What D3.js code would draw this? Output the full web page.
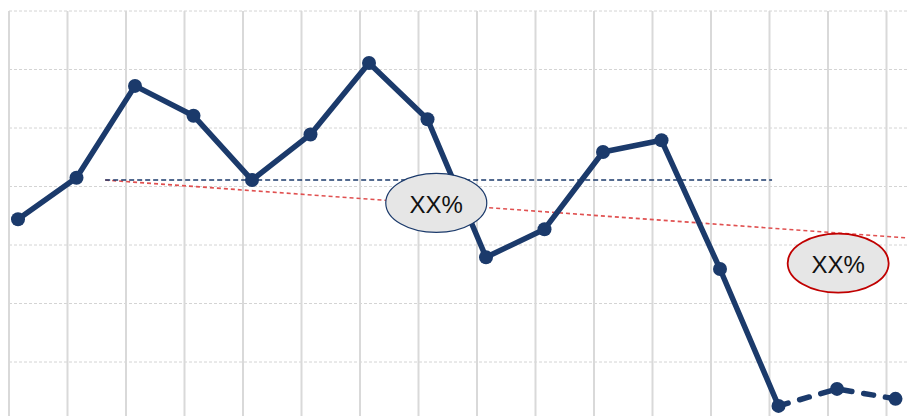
<!DOCTYPE html>
<html>
<head>
<meta charset="utf-8">
<script src="https://cdn.jsdelivr.net/npm/d3@7"></script>
<style>
  html, body { margin: 0; padding: 0; background: #ffffff; }
  svg { display: block; }
</style>
</head>
<body>
<svg id="chart" width="908" height="416"></svg>
<script>
// ---- data ----
const periods = d3.range(16);                       // 16 periods (no labels shown)
const values  = [34.4, 41.5, 57.2, 52.1, 41.1, 48.9, 61.1, 51.5,
                 27.9, 32.7, 45.9, 47.9, 25.9, 2.5, 5.4, 3.7];
const actualCount = 14;                             // last 3 points form the dashed (forecast) part
const yTicks = [10, 20, 30, 40, 50, 60, 70];
const avgLine   = [{i: 1.49, v: 41.1}, {i: 12.89, v: 41.1}];
const trendLine = [{i: 1.49, v: 41.1}, {i: 15.21, v: 31.2}];
const labels = [
  {i: 7.15,  v: 37.2, text: "XX%", stroke: "#1b3a6b"},
  {i: 14.02, v: 26.9, text: "XX%", stroke: "#c00000"}
];

// ---- setup ----
const svg = d3.select("#chart");
const W = 908, H = 416;
const x = d3.scaleLinear().domain([0, 15]).range([18, 895.5]);
const y = d3.scaleLinear().domain([0, 70]).range([420.5, 11]);
const gridShift = 9 / 58.5;   // vertical grid lines sit slightly left of each point
const navy = "#1b3a6b";

// horizontal dashed grid
svg.append("g").selectAll("line").data(yTicks).join("line")
  .attr("x1", x(-gridShift)).attr("x2", W)
  .attr("y1", d => y(d)).attr("y2", d => y(d))
  .attr("stroke", "#d4d4d4").attr("stroke-width", 1)
  .attr("stroke-dasharray", "3,2");

// vertical solid grid
svg.append("g").selectAll("line").data(periods).join("line")
  .attr("x1", d => x(d - gridShift)).attr("x2", d => x(d - gridShift))
  .attr("y1", y(70)).attr("y2", H)
  .attr("stroke", "#d9d9d9").attr("stroke-width", 2);

// reference lines
const refLine = d3.line().x(d => x(d.i)).y(d => y(d.v));
svg.append("path").attr("d", refLine(trendLine))
  .attr("fill", "none").attr("stroke", "#e05050").attr("stroke-width", 1.6)
  .attr("stroke-dasharray", "4,3");
svg.append("path").attr("d", refLine(avgLine))
  .attr("fill", "none").attr("stroke", navy).attr("stroke-width", 1.4)
  .attr("stroke-dasharray", "5,3");

// main series
const pts = values.map((v, i) => ({i, v}));
const line = d3.line().x(d => x(d.i)).y(d => y(d.v));
svg.append("path").attr("d", line(pts.slice(0, actualCount)))
  .attr("fill", "none").attr("stroke", navy).attr("stroke-width", 5.5)
  .attr("stroke-linejoin", "round");
svg.append("path").attr("d", line(pts.slice(actualCount - 1)))
  .attr("fill", "none").attr("stroke", navy).attr("stroke-width", 5.5)
  .attr("stroke-dasharray", "10,12").attr("stroke-linecap", "round");
svg.append("g").selectAll("circle").data(pts).join("circle")
  .attr("cx", d => x(d.i)).attr("cy", d => y(d.v)).attr("r", 7)
  .attr("fill", navy);

// ellipse labels
const lg = svg.append("g").selectAll("g").data(labels).join("g")
  .attr("transform", d => `translate(${x(d.i)},${y(d.v)})`);
lg.append("ellipse").attr("rx", 50.5).attr("ry", 29.5)
  .attr("fill", "#e6e6e6").attr("stroke", d => d.stroke)
  .attr("stroke-width", (d, i) => i === 0 ? 1.2 : 1.8);
lg.append("text").text(d => d.text)
  .attr("text-anchor", "middle").attr("dy", 10)
  .attr("font-family", "Liberation Sans, Arial, sans-serif")
  .attr("font-size", 24).attr("fill", "#111");
</script>
</body>
</html>
